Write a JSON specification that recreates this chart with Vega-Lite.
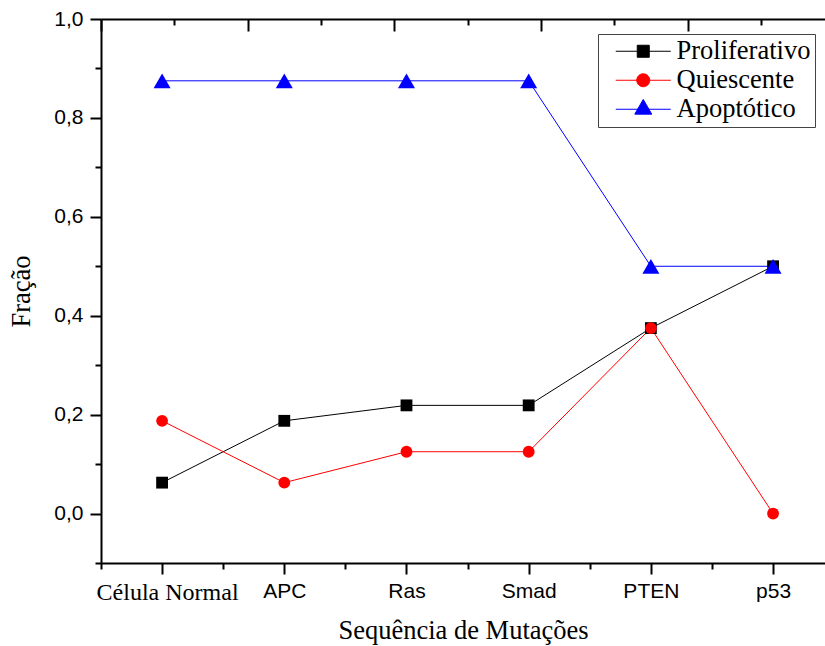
{
  "$schema": "https://vega.github.io/schema/vega-lite/v6.json",
  "width": 724,
  "height": 544,
  "autosize": {"type": "none"},
  "padding": {"left": 101, "top": 19, "right": 0, "bottom": 83},
  "background": "white",
  "config": {
    "view": {"stroke": null},
    "axis": {
      "grid": false,
      "domainColor": "black",
      "domainWidth": 2,
      "tickColor": "black",
      "tickWidth": 2,
      "labelColor": "black",
      "titleColor": "black",
      "titleFont": "Liberation Serif",
      "titleFontSize": 26.5,
      "titleFontWeight": "normal"
    },
    "legend": {
      "orient": "none",
      "legendX": 497,
      "legendY": 15,
      "strokeColor": "#444444",
      "fillColor": "white",
      "padding": 4,
      "labelFont": "Liberation Serif",
      "labelFontSize": 26.5,
      "labelColor": "black",
      "symbolSize": 400,
      "symbolOffset": 28,
      "labelOffset": 20,
      "rowPadding": 2,
      "symbolStrokeWidth": 1
    }
  },
  "data": {
    "values": [
      {"etapa": "Célula Normal", "passo": 0, "tipo": "Proliferativo", "fracao": 0.0625},
      {"etapa": "APC", "passo": 1, "tipo": "Proliferativo", "fracao": 0.1875},
      {"etapa": "Ras", "passo": 2, "tipo": "Proliferativo", "fracao": 0.21875},
      {"etapa": "Smad", "passo": 3, "tipo": "Proliferativo", "fracao": 0.21875},
      {"etapa": "PTEN", "passo": 4, "tipo": "Proliferativo", "fracao": 0.375},
      {"etapa": "p53", "passo": 5, "tipo": "Proliferativo", "fracao": 0.5},
      {"etapa": "Célula Normal", "passo": 0, "tipo": "Quiescente", "fracao": 0.1875},
      {"etapa": "APC", "passo": 1, "tipo": "Quiescente", "fracao": 0.0625},
      {"etapa": "Ras", "passo": 2, "tipo": "Quiescente", "fracao": 0.125},
      {"etapa": "Smad", "passo": 3, "tipo": "Quiescente", "fracao": 0.125},
      {"etapa": "PTEN", "passo": 4, "tipo": "Quiescente", "fracao": 0.375},
      {"etapa": "p53", "passo": 5, "tipo": "Quiescente", "fracao": 0.0},
      {"etapa": "Célula Normal", "passo": 0, "tipo": "Apoptótico", "fracao": 0.875},
      {"etapa": "APC", "passo": 1, "tipo": "Apoptótico", "fracao": 0.875},
      {"etapa": "Ras", "passo": 2, "tipo": "Apoptótico", "fracao": 0.875},
      {"etapa": "Smad", "passo": 3, "tipo": "Apoptótico", "fracao": 0.875},
      {"etapa": "PTEN", "passo": 4, "tipo": "Apoptótico", "fracao": 0.5},
      {"etapa": "p53", "passo": 5, "tipo": "Apoptótico", "fracao": 0.5}
    ]
  },
  "layer": [
    {
      "mark": {"type": "line", "strokeWidth": 1},
      "encoding": {
        "x": {
          "field": "passo",
          "type": "quantitative",
          "scale": {"domain": [-0.5, 5.425], "nice": false, "zero": false},
          "axis": {
            "orient": "bottom",
            "title": "Sequência de Mutações",
            "titlePadding": 13,
            "values": [-0.5, 0, 0.5, 1, 1.5, 2, 2.5, 3, 3.5, 4, 4.5, 5],
            "tickSize": {"condition": {"test": "abs(datum.value - round(datum.value)) < 0.01", "value": 11}, "value": 6},
            "labelExpr": "abs(datum.value - round(datum.value)) < 0.01 ? ['Célula Normal', 'APC', 'Ras', 'Smad', 'PTEN', 'p53'][round(datum.value)] : ''",
            "labelFont": {"condition": {"test": "abs(datum.value) < 0.01", "value": "Liberation Serif"}, "value": "Liberation Sans"},
            "labelFontSize": {"condition": {"test": "abs(datum.value) < 0.01", "value": 24}, "value": 21},
            "labelOffset": {"condition": {"test": "abs(datum.value) < 0.01", "value": 5}, "value": 0},
            "labelPadding": 6,
            "labelFlush": false,
            "labelOverlap": false
          }
        },
        "y": {
          "field": "fracao",
          "type": "quantitative",
          "scale": {"domain": [-0.1, 1.0], "nice": false, "zero": false},
          "axis": {
            "title": "Fração",
            "titlePadding": 18,
            "values": [-0.1, 0, 0.1, 0.2, 0.3, 0.4, 0.5, 0.6, 0.7, 0.8, 0.9, 1.0],
            "tickSize": {"condition": {"test": "datum.value > -0.05 && abs(datum.value * 5 - round(datum.value * 5)) < 0.01", "value": 11}, "value": 6},
            "labelExpr": "datum.value > -0.05 && abs(datum.value * 5 - round(datum.value * 5)) < 0.01 ? replace(format(datum.value, '.1f'), '.', ',') : ''",
            "labelFont": "Liberation Sans",
            "labelFontSize": 21,
            "labelPadding": 7,
            "labelFlush": false,
            "labelOverlap": false
          }
        },
        "color": {
          "field": "tipo",
          "type": "nominal",
          "scale": {"domain": ["Proliferativo", "Quiescente", "Apoptótico"], "range": ["#000000", "#ff0000", "#0000ff"]},
          "legend": {
            "title": null,
            "encoding": {
              "symbols": {
                "shape": {
                  "condition": [
                    {"test": "datum.value === 'Proliferativo'", "value": "M-2.75,0H2.75M-0.6,-0.6H0.6V0.6H-0.6Z"},
                    {"test": "datum.value === 'Quiescente'", "value": "M-2.75,0H2.75M0.65,0A0.65,0.65,0,1,1,-0.65,0A0.65,0.65,0,1,1,0.65,0Z"}
                  ],
                  "value": "M-2.75,0H2.75M0,-0.98L0.85,0.49H-0.85Z"
                },
                "fill": {"value": {"expr": "scale('color', datum.value)"}},
                "strokeWidth": {"value": 1}
              }
            }
          }
        }
      }
    },
    {
      "transform": [{"filter": "datum.tipo === 'Proliferativo'"}],
      "mark": {"type": "point", "shape": "square", "size": 140, "filled": true, "opacity": 1, "color": "#000000"},
      "encoding": {
        "x": {
          "field": "passo",
          "type": "quantitative",
          "axis": {
            "orient": "top",
            "title": null,
            "labels": false,
            "values": [-0.5, 0.1, 0.7, 1.3, 1.9, 2.5, 3.1, 3.7, 4.3, 4.9],
            "tickSize": {"condition": {"test": "abs((datum.value + 0.5) / 1.2 - round((datum.value + 0.5) / 1.2)) < 0.01", "value": -12}, "value": -6}
          }
        },
        "y": {"field": "fracao", "type": "quantitative"}
      }
    },
    {
      "transform": [{"filter": "datum.tipo === 'Quiescente'"}],
      "mark": {"type": "point", "shape": "circle", "size": 140, "filled": true, "opacity": 1, "color": "#ff0000"},
      "encoding": {
        "x": {"field": "passo", "type": "quantitative", "axis": null},
        "y": {"field": "fracao", "type": "quantitative"}
      }
    },
    {
      "transform": [{"filter": "datum.tipo === 'Apoptótico'"}],
      "mark": {"type": "point", "shape": "triangle-up", "size": 289, "filled": true, "opacity": 1, "color": "#0000ff"},
      "encoding": {
        "x": {"field": "passo", "type": "quantitative", "axis": null},
        "y": {"field": "fracao", "type": "quantitative"}
      }
    }
  ],
  "resolve": {"axis": {"x": "independent"}}
}
